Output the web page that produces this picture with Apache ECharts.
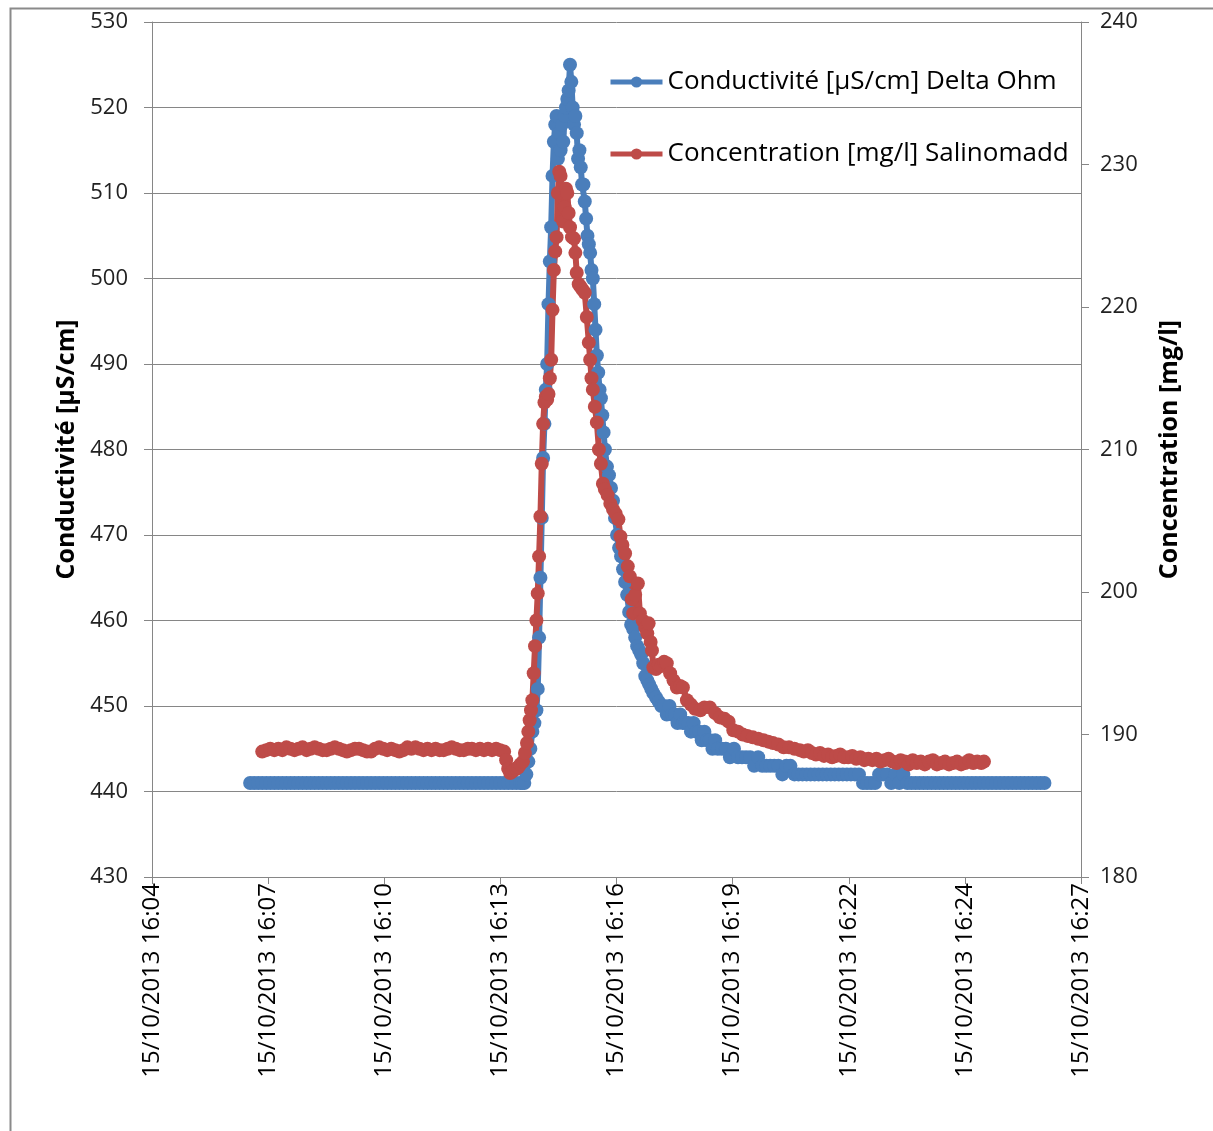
<!DOCTYPE html>
<html>
<head>
<meta charset="utf-8">
<title>Conductivité / Concentration</title>
<script src="https://cdn.jsdelivr.net/npm/echarts@6/dist/echarts.min.js"></script>
<style>
  html, body { margin: 0; padding: 0; background: #fff; }
  #chart { width: 1213px; height: 1131px; }
</style>
</head>
<body>
<div id="chart"></div>
<script>
// Recording date shown on the time axis
const recordDate = '15/10/2013';

// Delta Ohm conductivity probe: time (seconds after 16:00:00) and value [µS/cm]
const condSec = [
  434,440,446,452,458,464,470,476,482,488,494,500,506,512,518,524,530,536,542,548,
  554,560,566,572,578,584,590,596,602,608,614,620,626,632,638,644,650,656,662,668,
  674,680,686,692,698,704,710,716,722,728,734,740,746,752,758,764,770,776,782,788,
  794,800,806,812,818,824,830,836,
  839,842,845,848,851,854,857,860,862,864,866,868,870,872,874,876,878,880,882,884,
  886,888,890,892,894,896,898,900,902,904,906,908,910,912,914,916,918,920,922,924,
  926,928,930,932,934,936,938,940,942,944,946,948,950,952,954,956,958,960,962,965,
  968,971,974,977,980,983,986,989,992,995,998,1001,1004,1007,1010,1013,1016,1019,1022,1025,
  1028,1031,1034,1038,1042,1046,1050,1054,1058,1062,1066,1070,1074,1078,1082,1086,1090,1094,1098,1102,
  1106,1110,1114,1118,1122,1126,1130,1136,1142,1148,1154,1160,1166,1172,1178,1184,1190,1196,1202,1208,
  1214,1220,1226,1232,1238,1244,1250,1256,1262,1268,1274,1280,1286,1292,1298,1304,1310,1316,1322,1328,
  1334,1340,1346,1352,1358,1364,1370,1376,1382,1388,1394,1400,1406,1412,1418,1424,1430,1436,1442,1448,
  1454,1460,1466,1472,1478,1484,1490,1496,1502,1508,1514,1520,1526,1532,1538,1544,1550,1556,1562,1568,
  1574,1580,1586,1592,1598,1604,1610,1616
];
const condVal = [
  441,441,441,441,441,441,441,441,441,441,441,441,441,441,441,441,441,441,441,441,
  441,441,441,441,441,441,441,441,441,441,441,441,441,441,441,441,441,441,441,441,
  441,441,441,441,441,441,441,441,441,441,441,441,441,441,441,441,441,441,441,441,
  441,441,441,441,441,441,441,441,
  441,441,442,443.5,445,447,448,449.5,452,458,465,472,479,483,487,490,497,502,506,512,
  516,518,519,514,517,515,518,516,519,520,521,522,525,523,520,518,519,517,514,515,
  513,511,511,509,507,505,504,503,501,500,497,494,491,489,487,486,484,482,480,478,
  477,475.5,474,472,470,468.5,467.5,466,464.5,463,461,459.5,459,458,457,456.5,456,455,453.5,453,
  452.5,452,451.5,451,450.5,450,450,449,450,449,449,448,449,448,448,448,447,448,447,447,
  446,447,446,446,445,446,445,445,445,444,445,444,444,444,444,443,444,443,443,443,
  443,443,442,443,443,442,442,442,442,442,442,442,442,442,442,442,442,442,442,442,
  442,442,441,441,441,441,442,442,442,441,442,441,442,441,441,441,441,441,441,441,
  441,441,441,441,441,441,441,441,441,441,441,441,441,441,441,441,441,441,441,441,
  441,441,441,441,441,441,441,441
];

// Salinomadd salt concentration: time (seconds after 16:00:00) and value [mg/l]
const concSec = [
  452,458,464,470,476,482,488,494,500,506,512,518,524,530,536,542,548,554,560,566,
  572,578,584,590,596,602,608,614,620,626,632,638,644,650,656,662,668,674,680,686,
  692,698,704,710,716,722,728,734,740,746,752,758,764,770,776,782,788,794,800,806,
  812,
  815,818,821,824,827,830,833,836,840,843,846,848,850,852,854,856,858,860,862,864,
  866,868,870,872,874,876,878,880,882,884,886,888,890,892,894,896,898,900,902,904,
  906,908,910,913,916,918,920,923,926,929,932,935,938,940,942,944,947,950,953,956,
  959,962,966,970,974,978,982,985,988,992,996,999,1002,1004,1007,1011,1014,1018,1022,1025,
  1027,1030,1032,1034,1038,1042,1046,1050,1054,1059,1064,1069,1074,1078,1084,1090,1096,1104,1110,1118,
  1126,1133,1140,1146,1153,1160,1167,1174,1182,1190,1198,1205,1212,1220,1228,1236,1244,1252,1258,1264,
  1270,1276,1282,1288,1294,1300,1306,1312,1318,1324,1330,1336,1342,1348,1354,1360,1366,1372,1378,1384,
  1390,1396,1402,1408,1414,1420,1426,1432,1438,1444,1450,1456,1462,1468,1474,1480,1486,1492,1498,1504,
  1510,1516,1522,1526
];
const concVal = [
  188.8,188.9,189.0,188.9,189.0,188.9,189.1,189.0,188.9,189.0,189.1,188.9,189.0,189.1,189.0,188.9,188.9,189.0,189.1,189.0,
  188.9,188.8,188.9,189.0,189.0,188.9,188.8,188.8,189.0,189.1,189.0,188.9,189.0,188.9,188.8,188.9,189.1,189.0,189.1,189.0,
  188.9,189.0,188.9,189.0,188.9,188.9,189.0,189.1,189.0,188.9,188.9,189.0,189.0,188.9,189.0,188.9,189.0,188.9,189.0,188.9,
  188.8,
  188.2,187.6,187.3,187.4,187.5,187.6,187.7,187.9,188.1,188.7,189.4,190.2,191.0,191.7,192.4,194.3,196.2,198.0,199.9,202.5,
  205.3,209.0,211.8,213.3,213.7,213.5,213.9,215.0,216.3,219.8,222.6,223.9,224.9,228.0,229.5,229.2,226.5,226.0,227.0,228.3,
  228.0,226.6,225.6,224.9,224.8,223.8,222.4,221.6,221.4,221.2,221.0,219.3,217.5,216.3,215.0,214.2,213.0,211.9,210.0,209.0,
  207.6,207.2,206.8,206.2,205.8,205.5,205.1,203.9,203.3,202.7,201.8,201.1,199.5,198.5,199.8,200.6,198.5,198.0,197.5,197.1,
  197.8,196.5,195.9,194.7,194.6,194.9,194.8,195.1,195.0,194.3,193.8,193.3,193.4,193.3,192.4,192.1,191.8,191.7,191.9,191.9,
  191.5,191.2,191.1,190.9,190.3,190.2,190.0,189.9,189.8,189.7,189.6,189.5,189.4,189.3,189.1,189.1,189.0,188.9,188.8,188.9,
  188.7,188.6,188.7,188.5,188.6,188.4,188.5,188.6,188.4,188.4,188.5,188.3,188.4,188.2,188.3,188.2,188.3,188.1,188.2,188.3,
  188.1,188.0,188.2,188.1,187.9,188.2,188.0,188.1,187.9,188.1,188.2,187.9,188.0,188.1,187.9,188.0,188.1,187.9,188.0,188.2,
  188.0,188.1,188.0,188.1
];

// Axis ranges (left: conductivity, right: concentration); time axis in ms after midnight
const condAxis = { min: 430, max: 530, step: 10 };
const concAxis = { min: 180, max: 240, step: 10 };
const timeAxis = { min: 57888000, max: 59270400, step: 172800 }; // 16:04:48 → 16:27:50, 0.002 day steps

const seriesNames = ['Conductivité [µS/cm] Delta Ohm', 'Concentration [mg/l] Salinomadd'];
const axisNames = ['Conductivité [µS/cm]', 'Concentration [mg/l]'];

const BLUE = '#4a7ebb';
const RED = '#be4b48';
const GRID = '#868686';
const FONT = '"Open Sans", "Noto Sans", sans-serif';

const toMs = s => (16 * 3600 + s) * 1000;
const pairs = (ts, vs) => ts.map((t, i) => [toMs(t), vs[i]]);
const pad = n => (n < 10 ? '0' : '') + n;
const fmtTime = v => {
  const totalMin = Math.floor(Math.round(v) / 60000);
  return recordDate + ' ' + pad(Math.floor(totalMin / 60)) + ':' + pad(totalMin % 60);
};

const chart = echarts.init(document.getElementById('chart'), null, { renderer: 'canvas' });

const lineSeries = (name, data, color, yIndex) => ({
  name, type: 'line', data, yAxisIndex: yIndex,
  symbol: 'circle', symbolSize: 14, showSymbol: true, showAllSymbol: true,
  lineStyle: { color, width: 6 },
  itemStyle: { color, borderWidth: 0 },
  emphasis: { disabled: true },
  animation: false
});

chart.setOption({
  animation: false,
  backgroundColor: '#fff',
  textStyle: { fontFamily: FONT },
  grid: { left: 152, right: 132, top: 22, bottom: 254, containLabel: false },
  graphic: [{
    type: 'rect', left: 8, top: 6, silent: true,
    shape: { width: 1400, height: 1400 },
    style: { fill: 'none', stroke: '#8a8a8a', lineWidth: 2 }
  }],
  legend: {
    orient: 'vertical', left: 603, top: 64,
    itemWidth: 52, itemHeight: 14, itemGap: 46,
    lineStyle: { width: 5 },
    itemStyle: { borderWidth: 0 },
    textStyle: { fontFamily: FONT, fontSize: 26, color: '#000' },
    data: seriesNames
  },
  xAxis: {
    type: 'value', min: timeAxis.min, max: timeAxis.max, interval: timeAxis.step,
    axisLine: { show: true, lineStyle: { color: GRID, width: 1 } },
    axisTick: { show: true, inside: false, length: 7, lineStyle: { color: GRID } },
    splitLine: { show: false },
    axisLabel: {
      rotate: 90, margin: 6, formatter: fmtTime,
      fontFamily: FONT, fontSize: 24, color: '#000',
      showMinLabel: true, showMaxLabel: true
    }
  },
  yAxis: [{
    type: 'value', position: 'left',
    min: condAxis.min, max: condAxis.max, interval: condAxis.step,
    name: axisNames[0], nameLocation: 'middle', nameGap: 73, nameRotate: 90,
    nameTextStyle: { fontFamily: FONT, fontSize: 25, fontWeight: 'bold', color: '#000' },
    axisLine: { show: true, lineStyle: { color: GRID, width: 1 } },
    axisTick: { show: true, inside: false, length: 8, lineStyle: { color: GRID } },
    splitLine: { show: true, lineStyle: { color: GRID, width: 1 } },
    axisLabel: { margin: 24, fontFamily: FONT, fontSize: 22, color: '#222' }
  }, {
    type: 'value', position: 'right',
    min: concAxis.min, max: concAxis.max, interval: concAxis.step,
    name: axisNames[1], nameLocation: 'middle', nameGap: 76, nameRotate: 90,
    nameTextStyle: { fontFamily: FONT, fontSize: 25, fontWeight: 'bold', color: '#000' },
    axisLine: { show: true, lineStyle: { color: GRID, width: 1 } },
    axisTick: { show: true, inside: false, length: 8, lineStyle: { color: GRID } },
    splitLine: { show: false },
    axisLabel: { margin: 19, fontFamily: FONT, fontSize: 22, color: '#222' }
  }],
  series: [
    lineSeries(seriesNames[0], pairs(condSec, condVal), BLUE, 0),
    lineSeries(seriesNames[1], pairs(concSec, concVal), RED, 1)
  ]
});
</script>
</body>
</html>
